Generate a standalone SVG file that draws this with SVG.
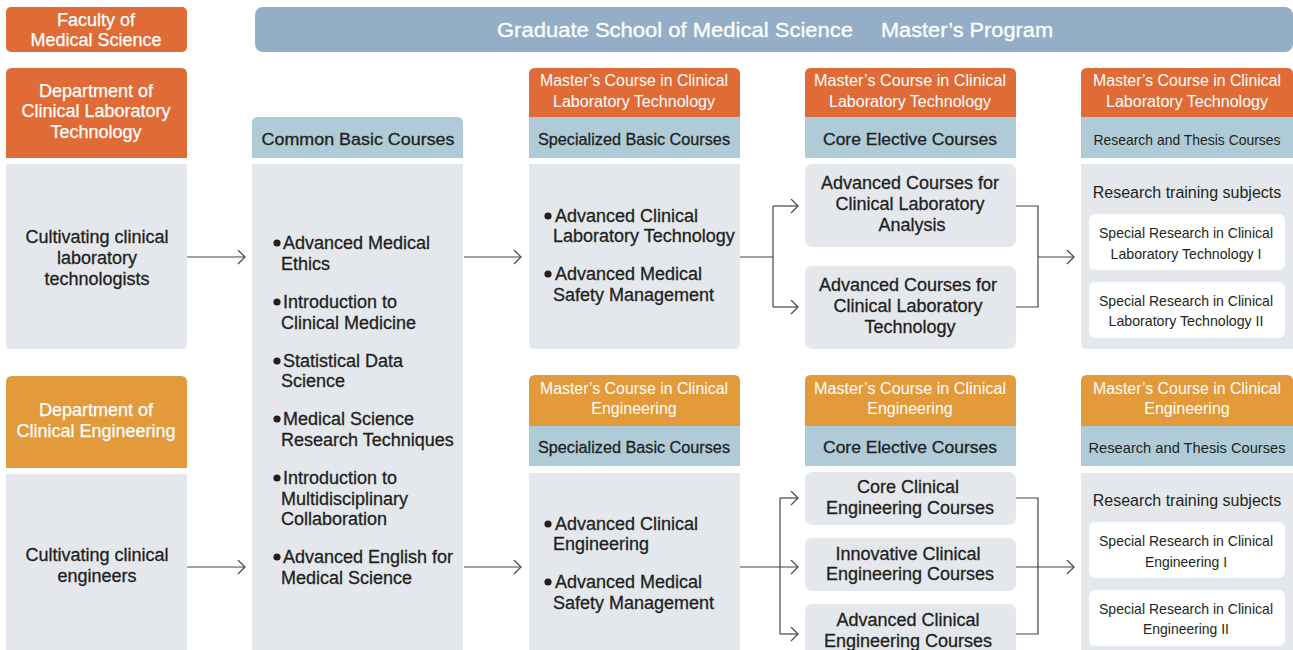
<svg xmlns="http://www.w3.org/2000/svg" width="1293" height="650" viewBox="0 0 1293 650">
<style>
text{font-family:"Liberation Sans",Arial,sans-serif}
.w{fill:#fff;font-size:18px;text-anchor:middle;stroke:#fff;stroke-width:0.25}
.wh{fill:#fff;font-size:16px;text-anchor:middle}
.b{fill:#231f20;font-size:18px;stroke:#231f20;stroke-width:0.3}
.c{text-anchor:middle}
.h{fill:#231f20;font-size:17px;text-anchor:middle;stroke:#231f20;stroke-width:0.3}
.s{fill:#231f20;font-size:16px;text-anchor:middle}
.sn{fill:#231f20;font-size:15px;text-anchor:middle}
.dk{fill:#e06b37}
.lt{fill:#e39a3b}
.bl{fill:#aecbd7}
.gr{fill:#e4e8ec}
.wb{fill:#fff}
.ln{fill:none;stroke:#444;stroke-width:1.2}
</style>
<defs>
<marker id="ah" markerUnits="userSpaceOnUse" markerWidth="10" markerHeight="16" refX="8" refY="7" orient="auto">
<path d="M1,0 L8,7 L1,14" fill="none" stroke="#444" stroke-width="1.2"/>
</marker>
</defs>
<rect width="1293" height="650" fill="#fff"/>

<g id="faculty">
<rect x="6" y="7" width="181" height="45" rx="5" class="dk"/>
<text class="w" x="96" y="26">Faculty of</text>
<text class="w" x="96" y="46">Medical Science</text>
</g>

<g id="graduate-bar">
<rect x="255" y="7" width="1038" height="45" rx="8" fill="#93aec6"/>
<text x="497" y="37" fill="#fff" font-size="20px" textLength="356" lengthAdjust="spacingAndGlyphs" stroke="#fff" stroke-width="0.3">Graduate School of Medical Science</text>
<text x="881" y="37" fill="#fff" font-size="20px" textLength="172" lengthAdjust="spacingAndGlyphs" stroke="#fff" stroke-width="0.3">Master’s Program</text>
</g>

<g id="dept-clt">
<path class="dk" d="M6,158 V74 Q6,68 12,68 H181 Q187,68 187,74 V158 Z"/>
<text class="w" x="96" y="97">Department of</text>
<text class="w" x="96" y="117">Clinical Laboratory</text>
<text class="w" x="96" y="138">Technology</text>
</g>
<g id="cultivate-clt">
<path class="gr" d="M6,164 H187 V344 Q187,349 182,349 H11 Q6,349 6,344 Z"/>
<text class="b c" x="97" y="243">Cultivating clinical</text>
<text class="b c" x="97" y="264">laboratory</text>
<text class="b c" x="97" y="285">technologists</text>
</g>

<g id="dept-ce">
<path class="lt" d="M6,468 V382 Q6,376 12,376 H181 Q187,376 187,382 V468 Z"/>
<text class="w" x="96" y="416">Department of</text>
<text class="w" x="96" y="437">Clinical Engineering</text>
</g>
<g id="cultivate-ce">
<rect x="6" y="474" width="181" height="190" class="gr"/>
<text class="b c" x="97" y="561">Cultivating clinical</text>
<text class="b c" x="97" y="582">engineers</text>
</g>

<g id="common-basic">
<path class="bl" d="M252,158 V123 Q252,117 258,117 H457 Q463,117 463,123 V158 Z"/>
<text class="h" x="358" y="145" textLength="193" lengthAdjust="spacingAndGlyphs">Common Basic Courses</text>
<rect x="252" y="164" width="211" height="500" class="gr"/>
<circle cx="277" cy="243" r="3.6" fill="#231f20"/>
<text class="b" x="283" y="249">Advanced Medical</text>
<text class="b" x="281" y="270">Ethics</text>
<circle cx="277" cy="302" r="3.6" fill="#231f20"/>
<text class="b" x="283" y="308">Introduction to</text>
<text class="b" x="281" y="329">Clinical Medicine</text>
<circle cx="277" cy="361" r="3.6" fill="#231f20"/>
<text class="b" x="283" y="367">Statistical Data</text>
<text class="b" x="281" y="387">Science</text>
<circle cx="277" cy="419" r="3.6" fill="#231f20"/>
<text class="b" x="283" y="425">Medical Science</text>
<text class="b" x="281" y="446">Research Techniques</text>
<circle cx="277" cy="478" r="3.6" fill="#231f20"/>
<text class="b" x="283" y="484">Introduction to</text>
<text class="b" x="281" y="505">Multidisciplinary</text>
<text class="b" x="281" y="525">Collaboration</text>
<circle cx="277" cy="557" r="3.6" fill="#231f20"/>
<text class="b" x="283" y="563">Advanced English for</text>
<text class="b" x="281" y="584">Medical Science</text>
</g>

<g id="spec-basic-clt">
<path class="dk" d="M529,117 V74 Q529,68 535,68 H734 Q740,68 740,74 V117 Z"/>
<text class="wh" x="634" y="86" textLength="188" lengthAdjust="spacingAndGlyphs">Master’s Course in Clinical</text>
<text class="wh" x="634" y="107" textLength="162" lengthAdjust="spacingAndGlyphs">Laboratory Technology</text>
<rect x="529" y="117" width="211" height="41" class="bl"/>
<text class="h" x="634" y="145" textLength="192" lengthAdjust="spacingAndGlyphs">Specialized Basic Courses</text>
<path class="gr" d="M529,164 H740 V343 Q740,349 734,349 H535 Q529,349 529,343 Z"/>
<circle cx="548" cy="216" r="3.6" fill="#231f20"/>
<text class="b" x="555" y="222">Advanced Clinical</text>
<text class="b" x="553" y="242">Laboratory Technology</text>
<circle cx="548" cy="274" r="3.6" fill="#231f20"/>
<text class="b" x="555" y="280">Advanced Medical</text>
<text class="b" x="553" y="301">Safety Management</text>
</g>

<g id="spec-basic-ce">
<path class="lt" d="M529,426 V381 Q529,375 535,375 H734 Q740,375 740,381 V426 Z"/>
<text class="wh" x="634" y="394" textLength="188" lengthAdjust="spacingAndGlyphs">Master’s Course in Clinical</text>
<text class="wh" x="634" y="414">Engineering</text>
<rect x="529" y="426" width="211" height="40" class="bl"/>
<text class="h" x="634" y="453" textLength="192" lengthAdjust="spacingAndGlyphs">Specialized Basic Courses</text>
<rect x="529" y="473" width="211" height="191" class="gr"/>
<circle cx="548" cy="524" r="3.6" fill="#231f20"/>
<text class="b" x="555" y="530">Advanced Clinical</text>
<text class="b" x="553" y="550">Engineering</text>
<circle cx="548" cy="582" r="3.6" fill="#231f20"/>
<text class="b" x="555" y="588">Advanced Medical</text>
<text class="b" x="553" y="609">Safety Management</text>
</g>

<g id="core-elective-clt">
<path class="dk" d="M805,117 V74 Q805,68 811,68 H1010 Q1016,68 1016,74 V117 Z"/>
<text class="wh" x="910" y="86" textLength="192" lengthAdjust="spacingAndGlyphs">Master’s Course in Clinical</text>
<text class="wh" x="910" y="107" textLength="162" lengthAdjust="spacingAndGlyphs">Laboratory Technology</text>
<rect x="805" y="117" width="211" height="41" class="bl"/>
<text class="h" x="910" y="145" textLength="174" lengthAdjust="spacingAndGlyphs">Core Elective Courses</text>
</g>
<g id="adv-cla">
<rect x="805" y="164" width="211" height="83" rx="7" class="gr"/>
<text class="b c" x="910" y="189">Advanced Courses for</text>
<text class="b c" x="910" y="210">Clinical Laboratory</text>
<text class="b c" x="912" y="231">Analysis</text>
</g>
<g id="adv-clt">
<rect x="805" y="266" width="211" height="83" rx="7" class="gr"/>
<text class="b c" x="908" y="291">Advanced Courses for</text>
<text class="b c" x="908" y="312">Clinical Laboratory</text>
<text class="b c" x="910" y="333">Technology</text>
</g>

<g id="core-elective-ce">
<path class="lt" d="M805,426 V381 Q805,375 811,375 H1010 Q1016,375 1016,381 V426 Z"/>
<text class="wh" x="910" y="394" textLength="192" lengthAdjust="spacingAndGlyphs">Master’s Course in Clinical</text>
<text class="wh" x="910" y="414">Engineering</text>
<rect x="805" y="426" width="211" height="40" class="bl"/>
<text class="h" x="910" y="453" textLength="174" lengthAdjust="spacingAndGlyphs">Core Elective Courses</text>
</g>
<g id="core-ce">
<rect x="805" y="472" width="211" height="53" rx="7" class="gr"/>
<text class="b c" x="908" y="493">Core Clinical</text>
<text class="b c" x="910" y="514">Engineering Courses</text>
</g>
<g id="innov-ce">
<rect x="805" y="538" width="211" height="53" rx="7" class="gr"/>
<text class="b c" x="908" y="560">Innovative Clinical</text>
<text class="b c" x="910" y="580">Engineering Courses</text>
</g>
<g id="adv-ce">
<rect x="805" y="604" width="211" height="60" rx="7" class="gr"/>
<text class="b c" x="908" y="626">Advanced Clinical</text>
<text class="b c" x="908" y="647">Engineering Courses</text>
</g>

<g id="research-clt">
<path class="dk" d="M1081,117 V74 Q1081,68 1087,68 H1287 Q1293,68 1293,74 V117 Z"/>
<text class="wh" x="1187" y="86" textLength="188" lengthAdjust="spacingAndGlyphs">Master’s Course in Clinical</text>
<text class="wh" x="1187" y="107" textLength="162" lengthAdjust="spacingAndGlyphs">Laboratory Technology</text>
<rect x="1081" y="117" width="212" height="41" class="bl"/>
<text class="sn" x="1187" y="145" textLength="187" lengthAdjust="spacingAndGlyphs">Research and Thesis Courses</text>
<path class="gr" d="M1081,164 H1293 V349 H1087 Q1081,349 1081,343 Z"/>
<text class="s" x="1187" y="198">Research training subjects</text>
<rect x="1089" y="214" width="196" height="56" rx="6" class="wb"/>
<text class="sn" x="1186" y="238" textLength="174" lengthAdjust="spacingAndGlyphs">Special Research in Clinical</text>
<text class="sn" x="1186" y="259" textLength="151" lengthAdjust="spacingAndGlyphs">Laboratory Technology I</text>
<rect x="1089" y="282" width="196" height="56" rx="6" class="wb"/>
<text class="sn" x="1186" y="306" textLength="174" lengthAdjust="spacingAndGlyphs">Special Research in Clinical</text>
<text class="sn" x="1186" y="326" textLength="155" lengthAdjust="spacingAndGlyphs">Laboratory Technology II</text>
</g>

<g id="research-ce">
<path class="lt" d="M1081,426 V381 Q1081,375 1087,375 H1287 Q1293,375 1293,381 V426 Z"/>
<text class="wh" x="1187" y="394" textLength="188" lengthAdjust="spacingAndGlyphs">Master’s Course in Clinical</text>
<text class="wh" x="1187" y="414">Engineering</text>
<rect x="1081" y="426" width="212" height="40" class="bl"/>
<text class="sn" x="1187" y="453" textLength="197" lengthAdjust="spacingAndGlyphs">Research and Thesis Courses</text>
<rect x="1081" y="473" width="212" height="191" class="gr"/>
<text class="s" x="1187" y="506">Research training subjects</text>
<rect x="1089" y="522" width="196" height="56" rx="6" class="wb"/>
<text class="sn" x="1186" y="546" textLength="174" lengthAdjust="spacingAndGlyphs">Special Research in Clinical</text>
<text class="sn" x="1186" y="567" textLength="82" lengthAdjust="spacingAndGlyphs">Engineering I</text>
<rect x="1089" y="590" width="196" height="56" rx="6" class="wb"/>
<text class="sn" x="1186" y="614" textLength="174" lengthAdjust="spacingAndGlyphs">Special Research in Clinical</text>
<text class="sn" x="1186" y="634" textLength="86" lengthAdjust="spacingAndGlyphs">Engineering II</text>
</g>

<g id="connectors">
<path class="ln" d="M187,257 H245" marker-end="url(#ah)"/>
<path class="ln" d="M464,257 H521" marker-end="url(#ah)"/>
<path class="ln" d="M740,257 H773 M773,206 V307"/>
<path class="ln" d="M773,206 H798" marker-end="url(#ah)"/>
<path class="ln" d="M773,307 H798" marker-end="url(#ah)"/>
<path class="ln" d="M1016,206 H1038 V307 H1016"/>
<path class="ln" d="M1038,257 H1074" marker-end="url(#ah)"/>
<path class="ln" d="M187,567 H245" marker-end="url(#ah)"/>
<path class="ln" d="M464,567 H521" marker-end="url(#ah)"/>
<path class="ln" d="M740,567 H798" marker-end="url(#ah)"/>
<path class="ln" d="M780,498 V634"/>
<path class="ln" d="M780,498 H798" marker-end="url(#ah)"/>
<path class="ln" d="M780,634 H798" marker-end="url(#ah)"/>
<path class="ln" d="M1016,498 H1038 V634 H1016"/>
<path class="ln" d="M1016,567 H1074" marker-end="url(#ah)"/>
</g>
</svg>
